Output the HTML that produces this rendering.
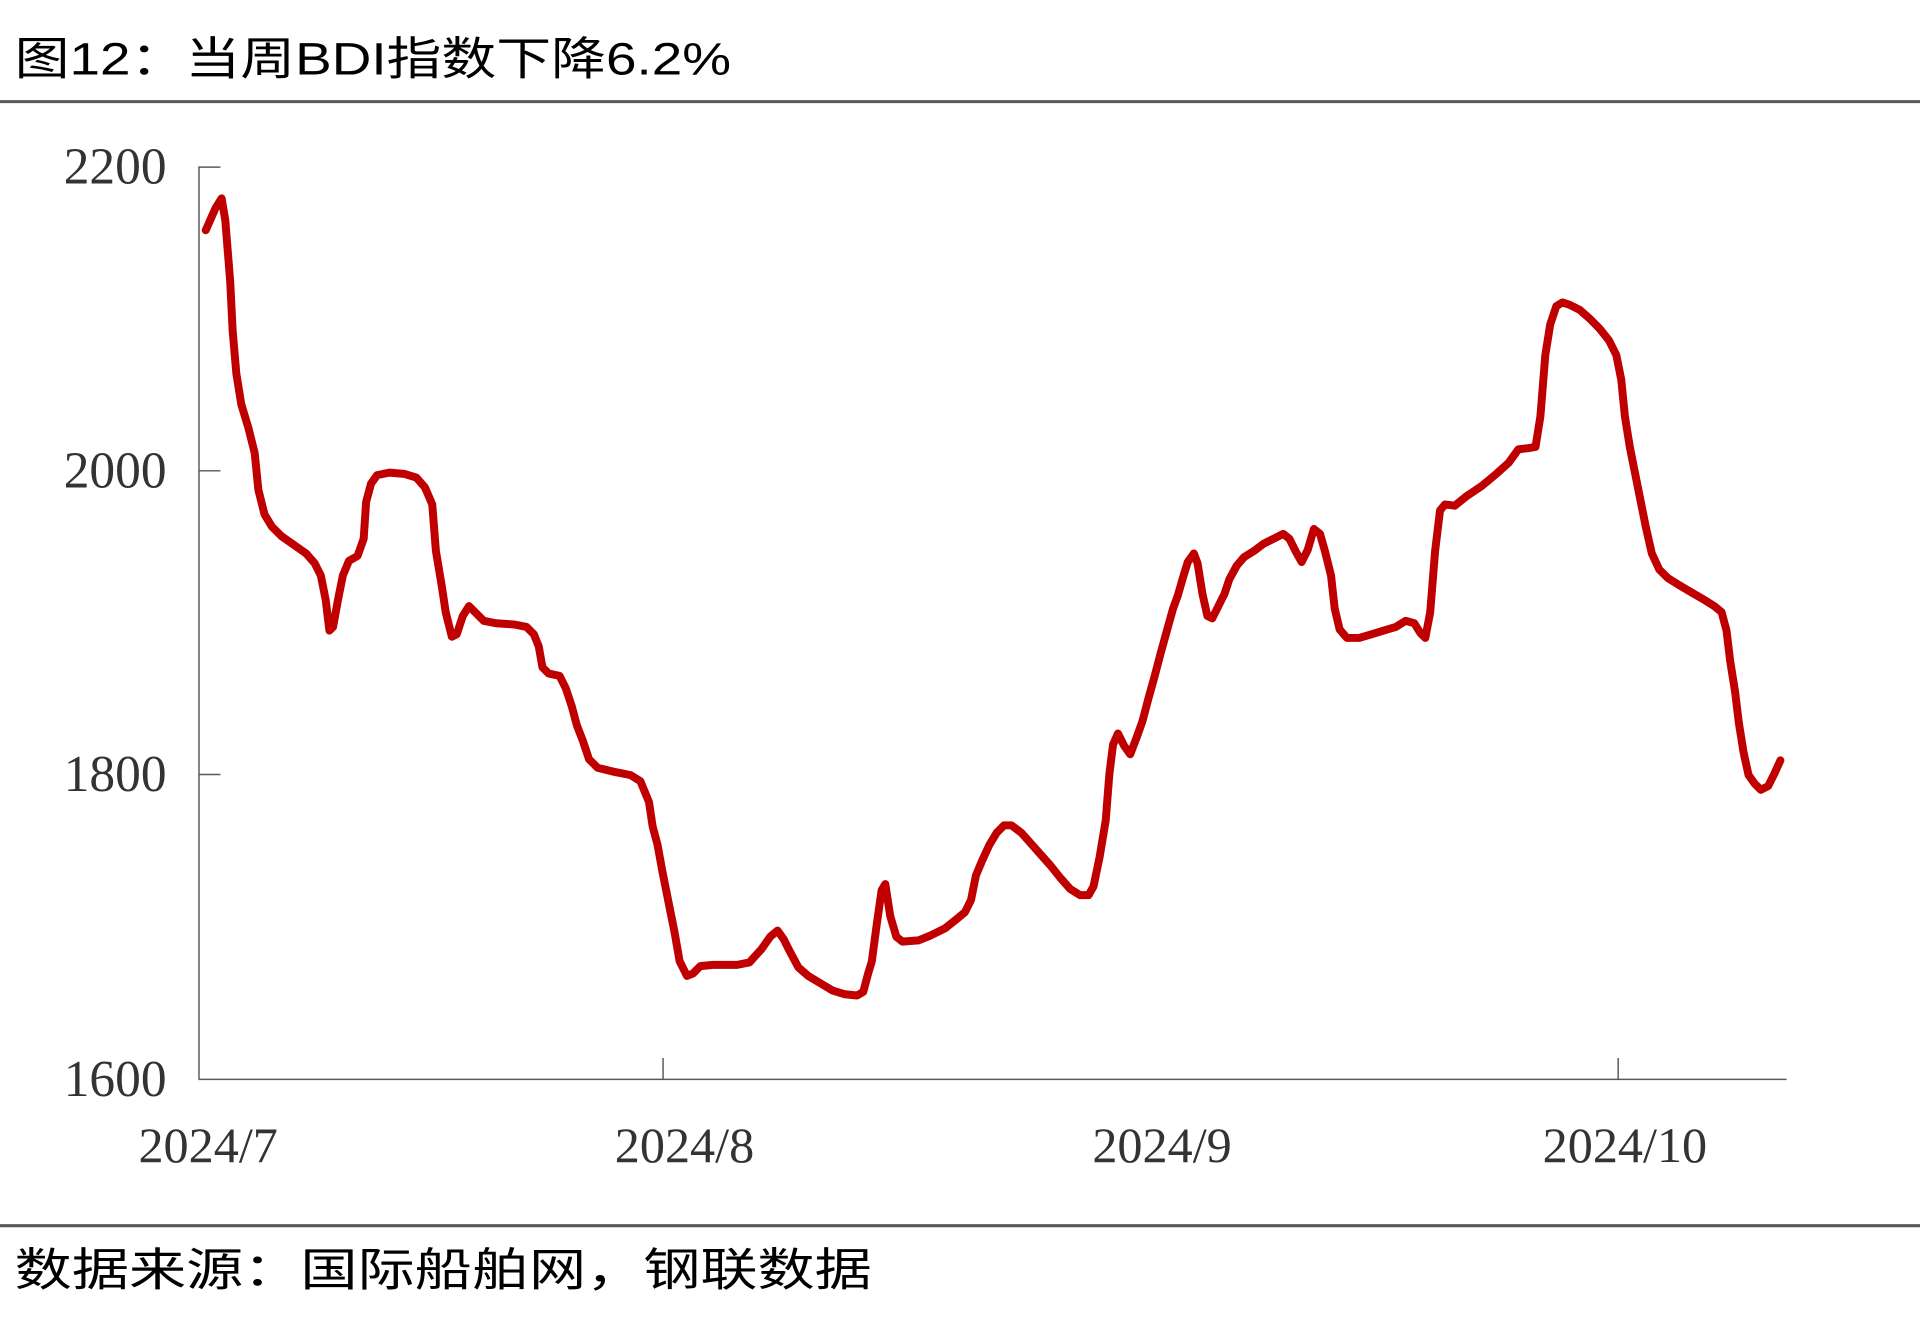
<!DOCTYPE html>
<html><head><meta charset="utf-8"><style>
html,body{margin:0;padding:0;background:#fff;}
svg{display:block;}
</style></head><body>
<svg width="1920" height="1331" viewBox="0 0 1568 1087" preserveAspectRatio="none" xmlns="http://www.w3.org/2000/svg">
<text x="12" y="61" font-family="'Liberation Sans','Noto Sans CJK SC',sans-serif" font-size="37" fill="#000" textLength="585" lengthAdjust="spacingAndGlyphs">图12：当周BDI指数下降6.2%</text>
<line x1="0" y1="83" x2="1568" y2="83" stroke="#595959" stroke-width="2.5"/>
<g stroke="#595959" stroke-width="1.2" fill="none">
<line x1="162.5" y1="136" x2="162.5" y2="881"/>
<line x1="162" y1="881.5" x2="1459" y2="881.5"/>
<line x1="162" y1="136.5" x2="180" y2="136.5"/>
<line x1="162" y1="384.5" x2="180" y2="384.5"/>
<line x1="162" y1="632.5" x2="180" y2="632.5"/>
<line x1="541.5" y1="864" x2="541.5" y2="881"/>
<line x1="1321.5" y1="864" x2="1321.5" y2="881"/>
</g>
<g font-family="'Liberation Serif',serif" font-size="42" fill="#333" text-anchor="end">
<text x="136" y="150">2200</text>
<text x="136" y="398">2000</text>
<text x="136" y="646">1800</text>
<text x="136" y="895">1600</text>
</g>
<g font-family="'Liberation Serif',serif" font-size="41" fill="#333" text-anchor="middle">
<text x="170" y="949">2024/7</text>
<text x="559" y="949">2024/8</text>
<text x="949" y="949">2024/9</text>
<text x="1327" y="949">2024/10</text>
</g>
<polyline fill="none" stroke="#c00000" stroke-width="6.5" stroke-linejoin="round" stroke-linecap="round" points="168,188 176,170 181,162 184,180 188,230 190,270 193,305 197,330 203,350 208,370 211,400 216,420 222,430 230,438 240,445 250,452 257,460 262,470 266,490 269,515 272,512 276,490 280,470 285,458 292,454 297,440 299,410 303,395 308,388 318,386 330,387 340,390 347,398 353,412 356,450 361,480 364,500 369,520 373,518 378,503 383,495 388,500 395,507 405,509 420,510 430,512 436,518 440,528 443,545 448,550 457,552 462,562 467,577 471,592 476,605 481,620 488,627 500,630 515,633 523,638 530,655 533,675 537,690 541,712 547,742 551,762 555,785 561,797 566,795 572,789 582,788 602,788 612,786 622,775 629,765 635,760 640,767 645,777 652,790 660,797 670,803 680,809 690,812 700,813 705,810 709,795 712,785 716,755 720,727 723,722 727,748 732,765 737,769 750,768 760,764 772,758 782,750 788,745 793,735 797,715 802,703 808,690 814,680 820,674 826,674 834,680 842,689 850,698 858,707 866,717 874,726 882,731 889,731 893,724 898,700 903,670 906,632 909,608 913,599 918,609 923,616 928,603 933,589 938,570 943,552 948,533 953,515 958,497 962,486 966,472 970,459 975,452 978,460 982,485 986,503 990,505 995,495 1000,485 1004,473 1010,462 1016,455 1024,450 1032,444 1040,440 1048,436 1053,440 1058,450 1063,459 1068,449 1073,432 1078,436 1082,450 1087,470 1090,497 1094,514 1100,521 1110,521 1120,518 1130,515 1140,512 1148,507 1155,509 1160,517 1164,521 1168,500 1172,450 1176,417 1180,412 1188,413 1198,405 1210,397 1222,387 1232,378 1240,367 1248,366 1254,365 1258,340 1262,290 1266,265 1271,250 1276,247 1282,249 1290,253 1298,260 1306,268 1314,278 1320,290 1324,310 1327,340 1331,365 1336,390 1340,410 1344,430 1349,452 1355,465 1362,472 1370,477 1380,483 1392,490 1400,495 1406,500 1410,515 1413,540 1417,565 1420,590 1424,615 1428,633 1433,640 1438,645 1444,642 1449,632 1454,621"/>
<line x1="0" y1="1001" x2="1568" y2="1001" stroke="#595959" stroke-width="2.5"/>
<text x="12" y="1050" font-family="'Liberation Sans','Noto Sans CJK SC',sans-serif" font-size="37" fill="#000" textLength="700" lengthAdjust="spacingAndGlyphs">数据来源：国际船舶网，钢联数据</text>
</svg>
</body></html>
